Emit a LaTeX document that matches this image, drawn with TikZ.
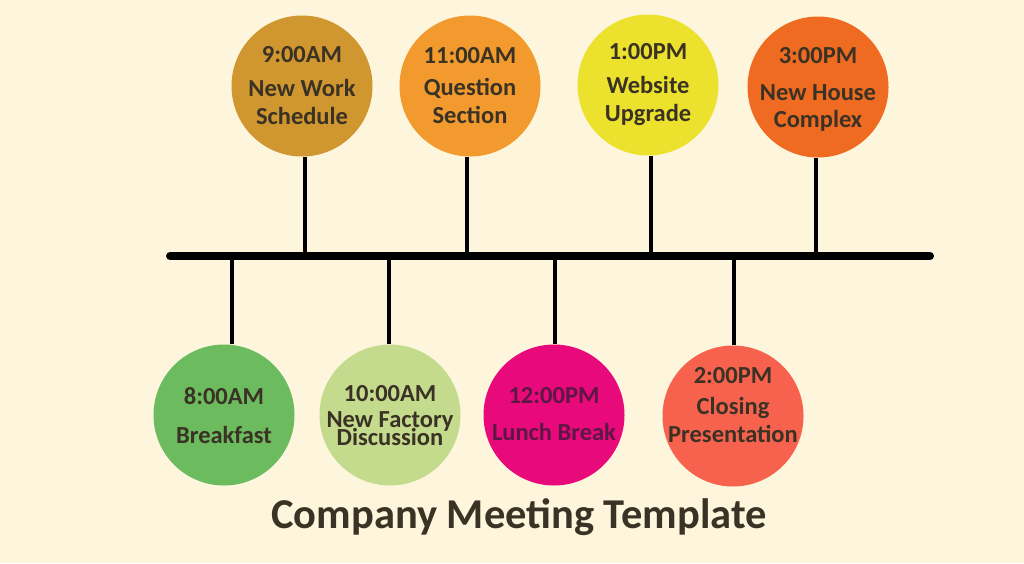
\documentclass[tikz,border=0pt]{standalone}
\usepackage{fontspec}
\setmainfont{Carlito}
\usetikzlibrary{positioning}
\definecolor{bgCol}{HTML}{FDF6DC}
\definecolor{textCol}{HTML}{3A3224}
\definecolor{lunchText}{HTML}{5C1744}
\definecolor{nineCol}{HTML}{D0962F}
\definecolor{elevenCol}{HTML}{F29A2E}
\definecolor{oneCol}{HTML}{ECE22E}
\definecolor{threeCol}{HTML}{F06B22}
\definecolor{eightCol}{HTML}{6CBB5F}
\definecolor{tenCol}{HTML}{C4DA8C}
\definecolor{twelveCol}{HTML}{E8097B}
\definecolor{twoCol}{HTML}{F7624F}
\begin{document}
\begin{tikzpicture}[
    x=1pt, y=-1pt,
    % Node styles
    event/.style={
        circle,
        fill=#1,
        draw=none,
        minimum size=141pt,
        inner sep=0pt
    },
    evtext/.style={
        font=\bfseries\fontsize{24.5}{28}\selectfont,
        text=textCol,
        align=center,
        inner sep=0pt
    },
    axis/.style={
        line width=8pt,
        line cap=round,
        draw=black
    },
    stem/.style={
        line width=3.5pt,
        draw=black
    }
]

    % ==== BACKGROUND ====
    \fill[bgCol] (0,0) rectangle (1024,563);

    % ==== TIME AXIS ====
    \coordinate (axisL) at (170,256);
    \coordinate (axisR) at (930,256);

    % ==== UPPER EVENTS ====
    \node[event=nineCol] (t9) at (302,86) {};
    \node[event=elevenCol] (t11) at (470,86) {};
    \node[event=oneCol] (t1) at (648,85) {};
    \node[event=threeCol] (t3) at (818,87) {};

    % ==== LOWER EVENTS ====
    \node[event=eightCol] (b8) at (224,415) {};
    \node[event=tenCol] (b10) at (390,415) {};
    \node[event=twelveCol] (b12) at (554,415) {};
    \node[event=twoCol] (b2) at (733,416) {};

    % Stems up to the axis
    \draw[stem] ([xshift=3pt]t9.south) -- ([xshift=3pt]t9.south |- axisL);
    \draw[stem] ([xshift=-3pt]t11.south) -- ([xshift=-3pt]t11.south |- axisL);
    \draw[stem] ([xshift=3pt]t1.south) -- ([xshift=3pt]t1.south |- axisL);
    \draw[stem] ([xshift=-2pt]t3.south) -- ([xshift=-2pt]t3.south |- axisL);

    % Stems down from the axis
    \draw[stem] ([xshift=8pt]b8.north) -- ([xshift=8pt]b8.north |- axisL);
    \draw[stem] ([xshift=-1pt]b10.north) -- ([xshift=-1pt]b10.north |- axisL);
    \draw[stem] ([xshift=1pt]b12.north) -- ([xshift=1pt]b12.north |- axisL);
    \draw[stem] ([xshift=1pt]b2.north) -- ([xshift=1pt]b2.north |- axisL);

    \draw[axis] (axisL) -- (axisR);

    % ==== EVENT TEXTS ====
    \node[evtext] (t9txt) at (t9.center) {9:00AM\\[6pt]New Work\\Schedule};
    \node[evtext] (t11txt) at (t11.center) {11:00AM\\[4pt]Question\\Section};
    \node[evtext] (t1txt) at (t1.center) {1:00PM\\[6pt]Website\\Upgrade};
    \node[evtext] (t3txt) at ([yshift=-2pt]t3.center) {3:00PM\\[9pt]New House\\[-1pt]Complex};

    \node[evtext] (b8txt) at ([yshift=-1pt]b8.center) {8:00AM\\[11pt]Breakfast};
    \node[evtext] (b10txt) at ([yshift=-1pt]b10.center) {10:00AM\\[-2pt]New Factory\\[-10pt]Discussion};
    \node[evtext, text=lunchText] (b12txt) at ([yshift=1pt]b12.center) {12:00PM\\[9pt]Lunch Break};
    \node[evtext] (b2txt) at ([yshift=11pt]b2.center) {2:00PM\\[3pt]Closing\\Presentation};

    % ==== TITLE ====
    \node[font=\bfseries\fontsize{42.5}{50}\selectfont, text=textCol, anchor=base, inner sep=0pt] (title) at (519,528) {Company Meeting Template};

\end{tikzpicture}
\end{document}
